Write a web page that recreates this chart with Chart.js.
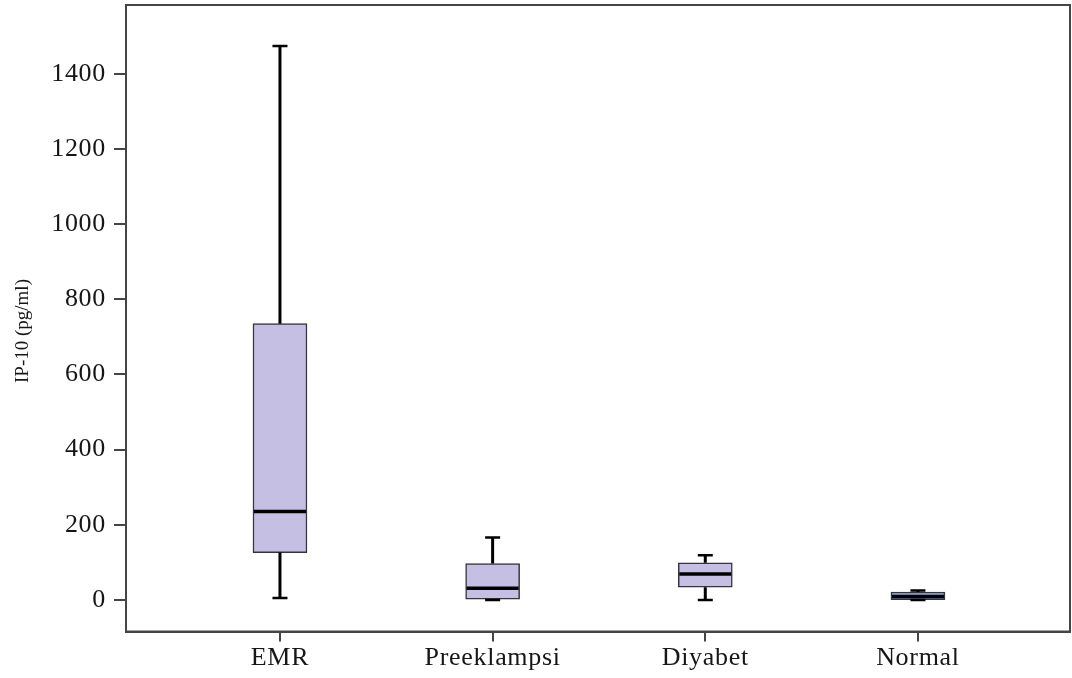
<!DOCTYPE html>
<html>
<head>
<meta charset="utf-8">
<script src="https://cdn.jsdelivr.net/npm/chart.js@4/dist/chart.umd.min.js"></script>
<style>
  html, body { margin: 0; padding: 0; background: #fff; }
  #wrap { width: 1072px; height: 678px; }
</style>
</head>
<body>
<div id="wrap"><canvas id="c" width="1072" height="678"></canvas></div>
<script>
// IP-10 concentrations per group (pg/ml): box-plot five-number summaries
const categories   = ['EMR', 'Preeklampsi', 'Diyabet', 'Normal'];
const whiskerLow   = [5, 0, 0, 0];
const quartile1    = [126, 2, 34, 1];
const medians      = [235, 31, 69, 9];
const quartile3    = [735, 97, 99, 21];
const whiskerHigh  = [1474, 166, 119, 25];
const yTickValues  = [0, 200, 400, 600, 800, 1000, 1200, 1400];
const yAxisTitle   = 'IP-10 (pg/ml)';

const boxFill   = ['#c5bfe3', '#c5bfe3', '#c5bfe3', '#8fa7d9'];
const inkColor  = '#161616';
const axisColor = '#454545';
const serif     = "'Liberation Serif', 'Times New Roman', serif";

// whiskers, caps and median lines drawn on top of the boxes
const boxExtras = {
  id: 'boxExtras',
  afterDatasetsDraw(chart) {
    const { ctx, scales: { x, y } } = chart;
    const half = 27;
    ctx.save();
    ctx.strokeStyle = '#000';
    categories.forEach((_, i) => {
      const cx = x.getPixelForValue(i);
      const yLo = y.getPixelForValue(whiskerLow[i]);
      const yQ1 = y.getPixelForValue(quartile1[i]);
      const yQ3 = y.getPixelForValue(quartile3[i]);
      const yHi = y.getPixelForValue(whiskerHigh[i]);
      const yMed = y.getPixelForValue(medians[i]);
      ctx.lineWidth = 3;
      ctx.beginPath();
      ctx.moveTo(cx, yQ3); ctx.lineTo(cx, yHi);
      ctx.moveTo(cx, yQ1); ctx.lineTo(cx, yLo);
      ctx.stroke();
      ctx.lineWidth = 2.5;
      ctx.beginPath();
      ctx.moveTo(cx - 7.5, yHi); ctx.lineTo(cx + 7.5, yHi);
      ctx.moveTo(cx - 7.5, yLo); ctx.lineTo(cx + 7.5, yLo);
      ctx.stroke();
      ctx.lineWidth = 3.5;
      ctx.beginPath();
      ctx.moveTo(cx - half + 1, yMed); ctx.lineTo(cx + half - 1, yMed);
      ctx.stroke();
    });
    ctx.restore();
  }
};

// slightly wider tick lettering, closed frame and the rotated y-axis title
const frame = {
  id: 'frame',
  beforeDraw(chart) {
    chart.ctx.letterSpacing = '0.7px';
  },
  afterDraw(chart) {
    const { ctx, chartArea: a } = chart;
    ctx.letterSpacing = '0px';
    ctx.save();
    ctx.strokeStyle = axisColor;
    ctx.lineWidth = 2;
    ctx.strokeRect(a.left, a.top, a.right - a.left, a.bottom - a.top);
    ctx.translate(23, 331);
    ctx.rotate(-Math.PI / 2);
    ctx.fillStyle = inkColor;
    ctx.font = '19px ' + serif;
    ctx.textAlign = 'center';
    ctx.textBaseline = 'middle';
    ctx.fillText(yAxisTitle, 0, 0);
    ctx.restore();
  }
};

new Chart(document.getElementById('c'), {
  type: 'bar',
  data: {
    datasets: [{
      data: categories.map((_, i) => ({ x: i, y: [quartile1[i], quartile3[i]] })),
      backgroundColor: boxFill,
      borderColor: '#34343c',
      borderWidth: 1.5,
      borderSkipped: false,
      barThickness: 54
    }]
  },
  options: {
    responsive: false,
    animation: false,
    events: [],
    layout: { padding: { left: 0, top: 5, right: 2, bottom: 0 } },
    plugins: { legend: { display: false }, tooltip: { enabled: false } },
    scales: {
      x: {
        type: 'linear',
        offset: false,
        min: -0.724,
        max: 3.715,
        afterBuildTicks(s) { s.ticks = categories.map((_, i) => ({ value: i })); },
        afterFit(s) { s.height = 678 - 631.5; s.paddingLeft = 0; s.paddingRight = 0; },
        grid: { offset: false, drawOnChartArea: false, drawTicks: true, tickLength: 10, color: axisColor, lineWidth: 2 },
        border: { display: true, color: axisColor, width: 2 },
        ticks: {
          autoSkip: false,
          maxRotation: 0,
          padding: 1,
          color: inkColor,
          font: { family: serif, size: 26 },
          callback: (v) => categories[v]
        }
      },
      y: {
        min: -84,
        max: 1583,
        afterBuildTicks(s) { s.ticks = yTickValues.map(v => ({ value: v })); },
        afterFit(s) { s.width = 126; s.paddingTop = 0; s.paddingBottom = 0; },
        grid: { drawOnChartArea: false, drawTicks: true, tickLength: 12, color: axisColor, lineWidth: 2 },
        border: { display: true, color: axisColor, width: 2 },
        ticks: {
          padding: 8,
          color: inkColor,
          font: { family: serif, size: 26 },
          callback: (v) => String(v)
        }
      }
    }
  },
  plugins: [boxExtras, frame]
});
</script>
</body>
</html>
